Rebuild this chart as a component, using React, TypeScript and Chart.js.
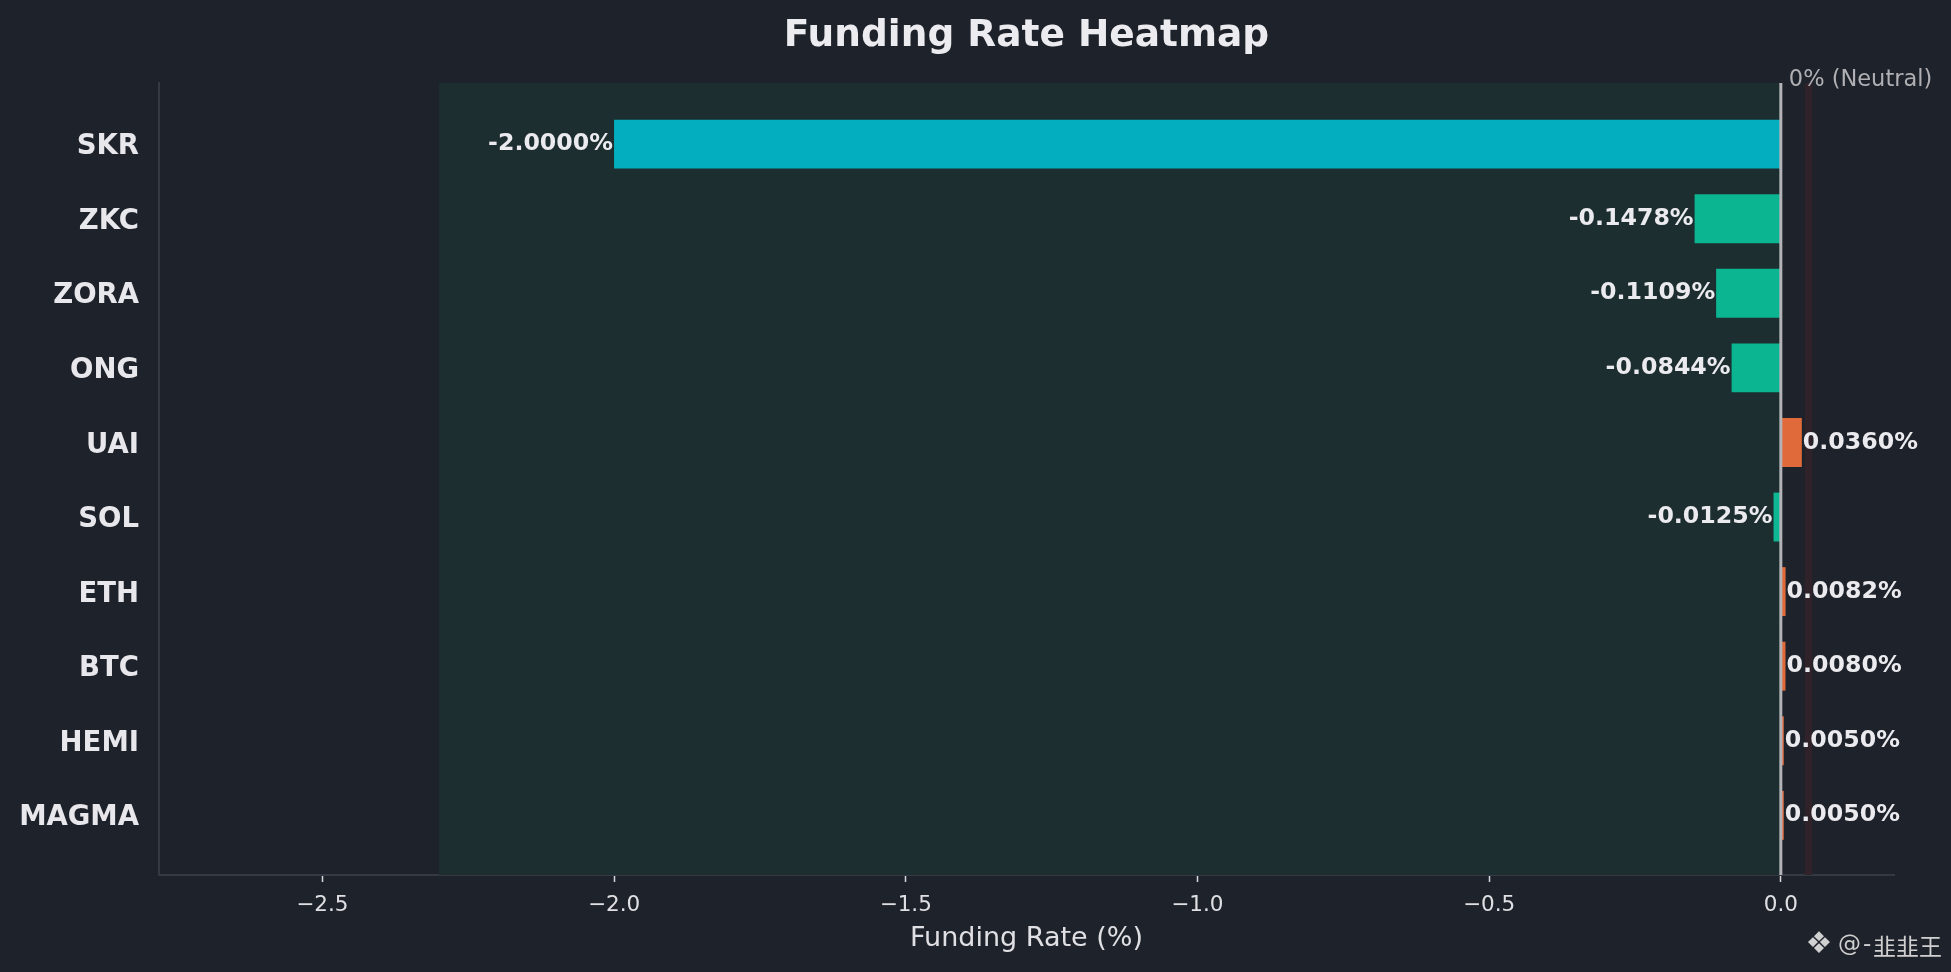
import React, { useEffect, useRef } from "react";
import { Chart, registerables } from "chart.js";

Chart.register(...registerables);

const categories = ["SKR", "ZKC", "ZORA", "ONG", "UAI", "SOL", "ETH", "BTC", "HEMI", "MAGMA"];
const rates = [-2.0, -0.1478, -0.1109, -0.0844, 0.036, -0.0125, 0.0082, 0.008, 0.005, 0.005];
const barColors = [
  "#03AEBE",
  "#0BB592",
  "#0BB592",
  "#0BB592",
  "#E06A3A",
  "#0DB794",
  "#E06A3A",
  "#E06A3A",
  "#E27146",
  "#E27146",
];
const xTickValues = [-2.5, -2.0, -1.5, -1.0, -0.5, 0.0];
const xRange = [-2.78, 0.194];
const yRange = [-0.82, 9.8];
const negativeZone = [-2.3, 0];
const positiveZone = [0.041, 0.054];

const TITLE = "Funding Rate Heatmap";
const X_TITLE = "Funding Rate (%)";
const NEUTRAL_LABEL = "0% (Neutral)";
const WATERMARK_AT = "@";
const WATERMARK_DASH = "-";
const WATERMARK_NAME = "韭韭王";

const BG = "#1e222a";
const FONT = "DejaVu Sans";

export default function App() {
  const canvasRef = useRef<HTMLCanvasElement | null>(null);

  useEffect(() => {
    document.body.style.margin = "0";
    document.body.style.background = BG;
    const canvas = canvasRef.current;
    if (!canvas) return;

    const decorPlugin = {
      id: "decor",
      beforeDraw(chart: any) {
        const ctx = chart.ctx;
        ctx.save();
        ctx.fillStyle = BG;
        ctx.fillRect(0, 0, chart.width, chart.height);
        ctx.restore();
      },
      beforeDatasetsDraw(chart: any) {
        const { ctx, chartArea, scales } = chart;
        const xs = scales.x;
        ctx.save();
        const g0 = xs.getPixelForValue(negativeZone[0]);
        const g1 = xs.getPixelForValue(negativeZone[1]);
        ctx.fillStyle = "#1c2e2f";
        ctx.fillRect(g0, chartArea.top, g1 - g0, chartArea.bottom - chartArea.top);
        const r0 = xs.getPixelForValue(positiveZone[0]);
        const r1 = xs.getPixelForValue(positiveZone[1]);
        ctx.fillStyle = "#2f2229";
        ctx.fillRect(r0, chartArea.top, r1 - r0, chartArea.bottom - chartArea.top);
        ctx.restore();
      },
      afterDatasetsDraw(chart: any) {
        const { ctx, chartArea, scales } = chart;
        const xs = scales.x;
        const zx = xs.getPixelForValue(0);
        ctx.save();
        ctx.strokeStyle = "#b4b4b8";
        ctx.lineWidth = 3;
        ctx.beginPath();
        ctx.moveTo(zx, chartArea.top);
        ctx.lineTo(zx, chartArea.bottom);
        ctx.stroke();
        ctx.fillStyle = "#b0b0b4";
        ctx.font = `22.5px "${FONT}"`;
        ctx.textAlign = "left";
        ctx.textBaseline = "middle";
        ctx.fillText(NEUTRAL_LABEL, zx + 8, chartArea.top - 3);

        const meta = chart.getDatasetMeta(0);
        ctx.font = `bold 23.7px "${FONT}"`;
        ctx.fillStyle = "#ebebef";
        ctx.textBaseline = "middle";
        meta.data.forEach((bar: any, i: number) => {
          const v = rates[i];
          const txt = v.toFixed(4) + "%";
          if (v < 0) {
            ctx.textAlign = "right";
            ctx.fillText(txt, bar.x - 1, bar.y);
          } else {
            ctx.textAlign = "left";
            ctx.fillText(txt, bar.x + 1, bar.y);
          }
        });
        ctx.restore();
      },
      afterDraw(chart: any) {
        const ctx = chart.ctx;
        ctx.save();
        ctx.fillStyle = "#d0d0d0";
        ctx.textBaseline = "middle";
        ctx.textAlign = "center";
        ctx.font = `30px "${FONT}"`;
        ctx.fillText("❖", 1819, 945);
        ctx.textAlign = "left";
        ctx.font = `23px "${FONT}"`;
        ctx.fillText(WATERMARK_AT, 1838, 945);
        ctx.fillText(WATERMARK_DASH, 1863, 945);
        ctx.font = `23px "Noto Sans CJK SC"`;
        ctx.fillText(WATERMARK_NAME, 1873, 946);
        ctx.restore();
      },
    };

    const chart = new Chart(canvas, {
      type: "bar",
      data: {
        datasets: [
          {
            data: categories.map((c, i) => ({ x: rates[i], y: i })) as any,
            backgroundColor: barColors,
            borderWidth: 0,
            categoryPercentage: 1,
            barPercentage: 0.656,
          },
        ],
      },
      options: {
        indexAxis: "y",
        responsive: false,
        animation: false,
        devicePixelRatio: 1,
        layout: { padding: { left: 0, right: 57, top: 0, bottom: 0 } },
        plugins: {
          legend: { display: false },
          tooltip: { enabled: false },
          title: {
            display: true,
            text: TITLE,
            color: "#ececf0",
            fullSize: false,
            font: { family: FONT, size: 37.5, weight: "bold" },
            padding: { top: 14, bottom: 24 },
          },
        },
        scales: {
          x: {
            type: "linear",
            position: "bottom",
            min: xRange[0],
            max: xRange[1],
            offset: false,
            afterBuildTicks: (scale: any) => {
              scale.ticks = xTickValues.map((v) => ({ value: v }));
            },
            ticks: {
              color: "#e0e0e4",
              font: { family: FONT, size: 21.5 },
              padding: 10.5,
              maxRotation: 0,
              autoSkip: false,
              callback: (v: any) => {
                const n = Number(v);
                return n < 0 ? "\u2212" + Math.abs(n).toFixed(1) : n.toFixed(1);
              },
            },
            grid: {
              display: true,
              offset: false,
              drawOnChartArea: false,
              drawTicks: true,
              tickLength: 7,
              tickWidth: 1.5,
              tickColor: "#d8d8dc",
            },
            border: { display: true, color: "#343943", width: 2 },
            title: {
              display: true,
              text: X_TITLE,
              color: "#e0e0e4",
              font: { family: FONT, size: 27 },
              padding: { top: 0, bottom: 16.5 },
            },
            afterFit: (scale: any) => {
              scale.height = 97;
            },
          },
          y: {
            type: "linear",
            min: yRange[0],
            max: yRange[1],
            reverse: true,
            offset: false,
            afterBuildTicks: (scale: any) => {
              scale.ticks = categories.map((c, i) => ({ value: i }));
            },
            ticks: {
              color: "#e8e8ec",
              font: { family: FONT, size: 27.5, weight: "bold" },
              padding: 20,
              labelOffset: 3,
              autoSkip: false,
              callback: (v: any) => categories[Number(v)] ?? "",
            },
            grid: { display: false, drawTicks: false, offset: false },
            border: { display: true, color: "#343943", width: 2 },
            afterFit: (scale: any) => {
              scale.width = 159;
            },
          },
        },
      } as any,
      plugins: [decorPlugin],
    });

    return () => {
      chart.destroy();
    };
  }, []);

  return (
    <div style={{ position: "absolute", left: 0, top: 0, width: 1951, height: 972, background: BG }}>
      <canvas ref={canvasRef} width={1951} height={972} style={{ display: "block" }} />
    </div>
  );
}
